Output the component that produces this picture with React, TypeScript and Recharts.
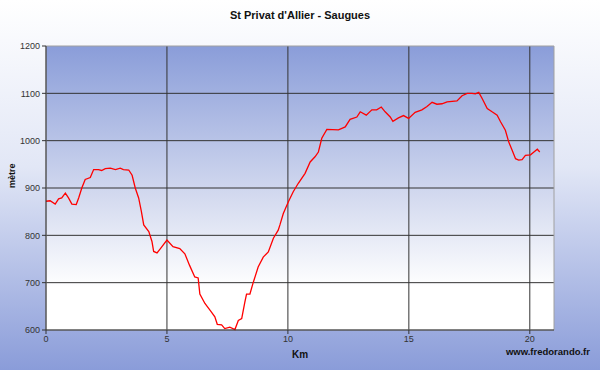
import React from "react";
import { LineChart, Line, XAxis, YAxis, CartesianGrid, ReferenceArea } from "recharts";

// distance along the route (km) and elevation (m)
const km = [
  0, 0.17, 0.38, 0.52, 0.65, 0.8, 0.93, 1.07, 1.25, 1.35, 1.48, 1.62, 1.83, 1.97,
  2.17, 2.3, 2.45, 2.66, 2.87, 3.07, 3.2, 3.42, 3.56, 3.69, 3.83, 3.94, 4.04,
  4.25, 4.38, 4.45, 4.59, 4.73, 5.0, 5.25, 5.53, 5.74, 5.94, 6.15, 6.29, 6.36,
  6.57, 6.84, 6.98, 7.08, 7.26, 7.39, 7.6, 7.81, 7.95, 8.09, 8.22, 8.29, 8.43,
  8.57, 8.77, 8.98, 9.19, 9.4, 9.6, 9.67, 9.81, 10.02, 10.22, 10.43, 10.71,
  10.92, 11.12, 11.26, 11.4, 11.61, 12.09, 12.37, 12.57, 12.85, 12.99, 13.24,
  13.47, 13.67, 13.86, 14.02, 14.23, 14.34, 14.57, 14.78, 14.99, 15.26, 15.54,
  15.75, 15.96, 16.16, 16.37, 16.58, 16.99, 17.2, 17.41, 17.61, 17.75, 17.89,
  18.03, 18.24, 18.44, 18.65, 18.79, 18.99, 19.13, 19.27, 19.41, 19.54, 19.68,
  19.82, 20.03, 20.17, 20.31, 20.41,
];
const altitude = [
  872, 873, 866, 877, 879, 889, 879, 866, 865, 879, 900, 918, 922, 939,
  939, 937, 941, 942, 939, 942, 939, 938, 927, 900, 879, 851, 822,
  808, 787, 766, 763, 772, 790, 776, 772, 761, 736, 712, 710, 676,
  656, 638, 628, 612, 611, 603, 606, 601, 620, 624, 659, 676, 676,
  701, 733, 754, 765, 794, 811, 822, 846, 871, 892, 910, 931,
  955, 966, 976, 1005, 1024, 1023, 1029, 1045, 1050, 1061, 1054,
  1065, 1065, 1071, 1061, 1050, 1041, 1048, 1053, 1047, 1060, 1065,
  1072, 1081, 1077, 1078, 1082, 1084, 1095, 1100, 1100, 1099, 1102,
  1089, 1068, 1061, 1054, 1040, 1022, 997, 980, 962, 959, 960,
  969, 970, 976, 982, 976,
];

const xTicks = [0, 5, 10, 15, 20];
const yTicks = [600, 700, 800, 900, 1000, 1100, 1200];

const data = km.map((d, i) => ({ km: d, alt: altitude[i] }));

const font = "'Liberation Sans', Arial, sans-serif";

export default function App() {
  return (
    <div
      style={{
        position: "absolute",
        left: 0,
        top: 0,
        width: 600,
        height: 370,
        background: "linear-gradient(to bottom, #ffffff 0%, #e2e7f6 45%, #8a9cd9 100%)",
        fontFamily: font,
      }}
    >
      <div
        style={{
          position: "absolute",
          top: 9,
          width: 600,
          textAlign: "center",
          fontSize: 11,
          fontWeight: "bold",
          color: "#111",
        }}
      >
        St Privat d'Allier - Saugues
      </div>
      <LineChart
        width={600}
        height={370}
        data={data}
        margin={{ top: 46, right: 46, bottom: 10, left: 0 }}
      >
        <defs>
          <linearGradient id="plotBg" x1="0" y1="0" x2="0" y2="1">
            <stop offset="0%" stopColor="#8a9dd9" />
            <stop offset="55%" stopColor="#d6dcf0" />
            <stop offset="85%" stopColor="#ffffff" />
            <stop offset="100%" stopColor="#ffffff" />
          </linearGradient>
        </defs>
        <CartesianGrid
          fill="url(#plotBg)"
          fillOpacity={1}
          stroke="#333"
          horizontalValues={[700, 800, 900, 1000, 1100]}
          verticalValues={[5, 10, 15, 20]}
        />
        <ReferenceArea x1={0} x2={21} y1={600} y2={1200} fill="none" stroke="#a0a0a0" ifOverflow="visible" />
        <XAxis
          dataKey="km"
          type="number"
          domain={[0, 21]}
          ticks={xTicks}
          height={30}
          stroke="#333"
          tickSize={4}
          tick={{ fontSize: 9, fill: "#333", fontFamily: font }}
          label={{ value: "Km", position: "insideBottom", offset: 2, fontSize: 10, fontWeight: "bold", fill: "#111", fontFamily: font }}
        />
        <YAxis
          type="number"
          domain={[600, 1200]}
          ticks={yTicks}
          width={46}
          stroke="#333"
          tickSize={4}
          tick={{ fontSize: 9, fill: "#333", fontFamily: font }}
          label={{ value: "mètre", angle: -90, position: "insideLeft", offset: 12, fontSize: 9, fontWeight: "bold", fill: "#111", fontFamily: font }}
        />
        <Line
          type="linear"
          dataKey="alt"
          stroke="#ff0000"
          strokeWidth={1.3}
          dot={false}
          isAnimationActive={false}
        />
      </LineChart>
      <div
        style={{
          position: "absolute",
          right: 10,
          top: 346,
          fontSize: 9.5,
          fontWeight: "bold",
          color: "#111",
        }}
      >
        www.fredorando.fr
      </div>
    </div>
  );
}
